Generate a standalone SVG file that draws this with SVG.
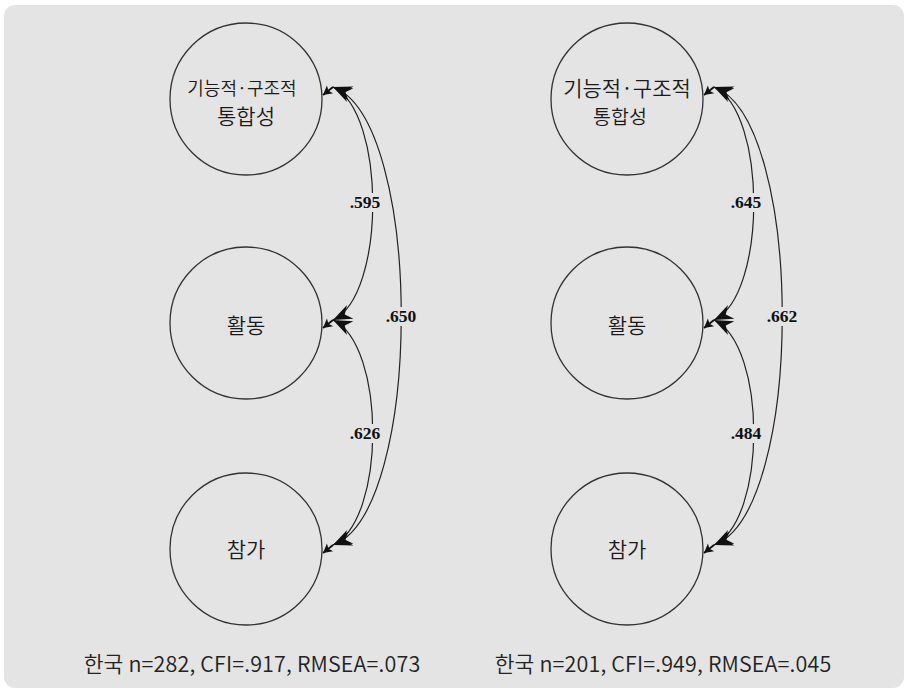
<svg xmlns="http://www.w3.org/2000/svg" width="908" height="692" viewBox="0 0 908 692">
  <style>
    .node circle { fill: none; stroke: #333; stroke-width: 1.3; }
    .kr { font-family: "Noto Sans CJK KR", "Noto Sans", sans-serif; font-weight: 350; fill: #1a1a1a; text-anchor: middle; }
    .cov { fill: none; stroke: #222; stroke-width: 1.2; marker-start: url(#head); marker-end: url(#head); }
    .tip { fill: none; stroke: #111; stroke-width: 1.8; marker-end: url(#tiphead); }
    .lblbg { fill: #e4e4e4; }
    .lbl { font-family: "Liberation Serif", "Times New Roman", serif; font-size: 17.5px; font-weight: bold; fill: #111; text-anchor: middle; }
    .fit { font-family: "Noto Sans CJK KR", "Noto Sans", sans-serif; font-weight: 350; font-size: 21.5px; letter-spacing: 0.15px; fill: #222; text-anchor: middle; }
  </style>
  <defs>
    <marker id="head" markerUnits="userSpaceOnUse" orient="auto-start-reverse" markerWidth="24" markerHeight="20" refX="0" refY="0" viewBox="-22 -10 23 20" overflow="visible">
      <path d="M0,0 L-19,-7.5 L-13,0 L-19,7.5 Z" fill="#111"/>
    </marker>
    <marker id="tiphead" markerUnits="userSpaceOnUse" orient="auto" markerWidth="12" markerHeight="12" refX="0" refY="0" viewBox="-10 -6 11 12" overflow="visible">
      <path d="M0,0 L-9,-5 L-7,0 L-9,5 Z" fill="#111"/>
    </marker>
  </defs>

  <!-- panel background -->
  <rect x="4" y="5" width="900" height="683" rx="11" fill="#e4e4e4"/>

  <!-- left model -->
  <g id="L_integration" class="node">
    <circle cx="246" cy="99" r="76"/>
    <text class="kr" x="242" y="95" font-size="18">기능적·구조적</text>
    <text class="kr" x="246" y="124" font-size="21">통합성</text>
  </g>
  <g id="L_activity" class="node">
    <circle cx="246" cy="323" r="76"/>
    <text class="kr" x="246" y="333" font-size="21">활동</text>
  </g>
  <g id="L_participation" class="node">
    <circle cx="246" cy="549" r="76"/>
    <text class="kr" x="246" y="557" font-size="21">참가</text>
  </g>

  <!-- right model -->
  <g id="R_integration" class="node">
    <circle cx="627" cy="99" r="76"/>
    <text class="kr" x="627" y="96" font-size="21">기능적·구조적</text>
    <text class="kr" x="620" y="124" font-size="19.5">통합성</text>
  </g>
  <g id="R_activity" class="node">
    <circle cx="627" cy="323" r="76"/>
    <text class="kr" x="627" y="333" font-size="21">활동</text>
  </g>
  <g id="R_participation" class="node">
    <circle cx="627" cy="549" r="76"/>
    <text class="kr" x="627" y="557" font-size="21">참가</text>
  </g>

  <!-- covariance paths -->
  <g id="connectors">
    <g id="left_paths">
      <path class="cov" d="M333,87 C386,112 386,295 333,320"/>
      <path class="cov" d="M333,320 C386,345 386,520 333,545"/>
      <path class="cov" d="M333,87 C424,120 424,512 333,545"/>
      <path class="tip" d="M333,87 L323,95"/>
      <path class="tip" d="M333,320 L323,328"/>
      <path class="tip" d="M333,545 L323,553"/>
      <rect class="lblbg" x="349" y="193" width="32" height="19"/>
      <text class="lbl" x="365" y="208">.595</text>
      <rect class="lblbg" x="385" y="307" width="32" height="19"/>
      <text class="lbl" x="401" y="322">.650</text>
      <rect class="lblbg" x="349" y="424" width="32" height="19"/>
      <text class="lbl" x="365" y="439">.626</text>
    </g>
    <g id="right_paths">
      <path class="cov" d="M714,87 C767,112 767,295 714,320"/>
      <path class="cov" d="M714,320 C767,345 767,520 714,545"/>
      <path class="cov" d="M714,87 C805,120 805,512 714,545"/>
      <path class="tip" d="M714,87 L704,95"/>
      <path class="tip" d="M714,320 L704,328"/>
      <path class="tip" d="M714,545 L704,553"/>
      <rect class="lblbg" x="730" y="193" width="32" height="19"/>
      <text class="lbl" x="746" y="208">.645</text>
      <rect class="lblbg" x="766" y="307" width="32" height="19"/>
      <text class="lbl" x="782" y="322">.662</text>
      <rect class="lblbg" x="730" y="424" width="32" height="19"/>
      <text class="lbl" x="746" y="439" font-weight="normal">.484</text>
    </g>
  </g>

  <!-- fit statistics -->
  <text class="fit" x="252" y="672">한국 n=282, CFI=.917, RMSEA=.073</text>
  <text class="fit" x="663" y="672">한국 n=201, CFI=.949, RMSEA=.045</text>
</svg>
